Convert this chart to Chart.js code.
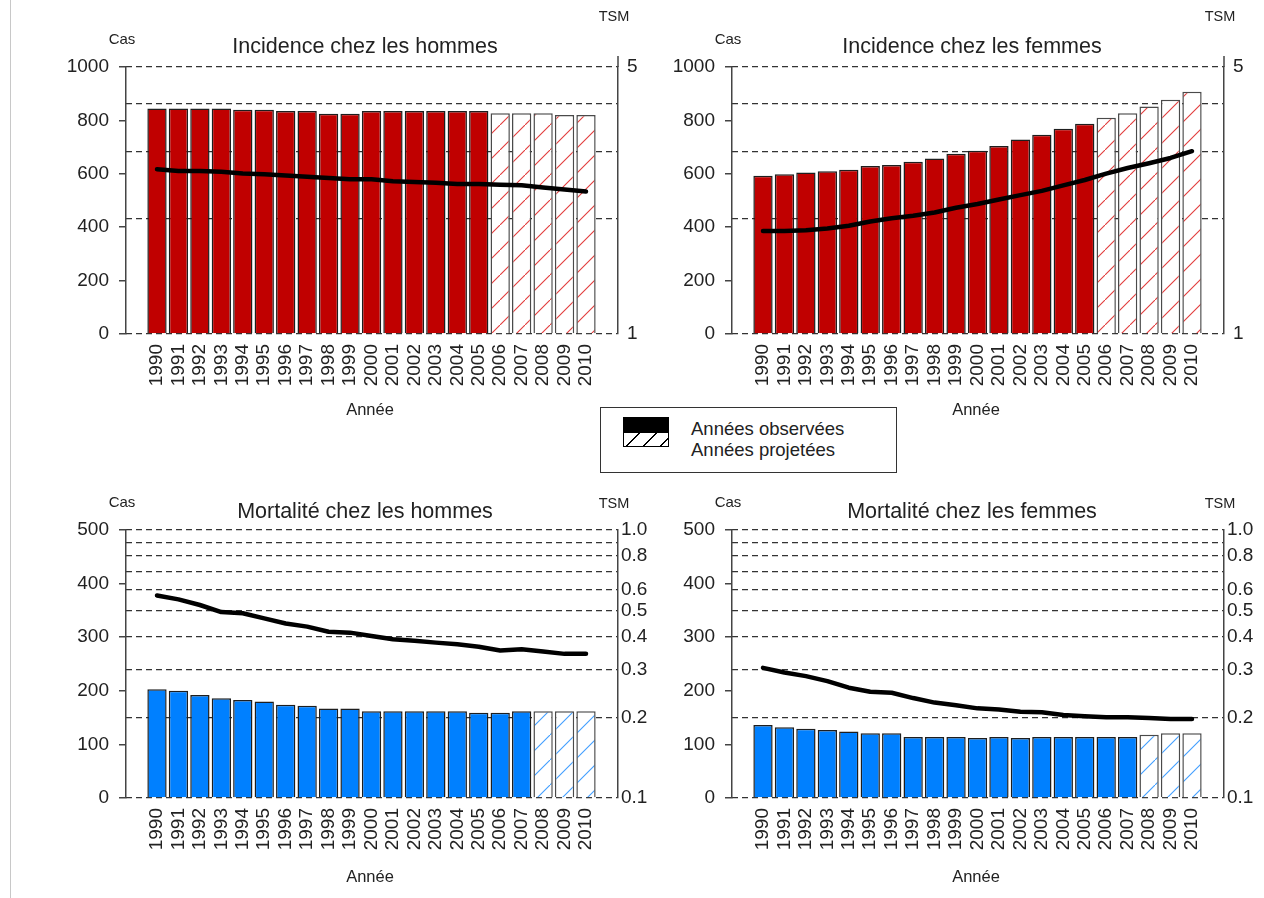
<!DOCTYPE html>
<html>
<head>
<meta charset="utf-8">
<script src="https://cdn.jsdelivr.net/npm/chart.js@4.4.1/dist/chart.umd.min.js"></script>
<style>
html,body{margin:0;padding:0;background:#fff;}
body{width:1264px;height:898px;position:relative;overflow:hidden;font-family:"Liberation Sans",Arial,sans-serif;color:#222;}
canvas{position:absolute;}
#edge{position:absolute;left:10px;top:0;width:1px;height:898px;background:#c8c8c8;}
#legend{position:absolute;left:600px;top:407px;width:297px;height:66px;border:1.5px solid #333;background:#fff;box-sizing:border-box;z-index:5;}
#swObs{position:absolute;left:21.5px;top:9px;width:46px;height:15px;background:#000;}
#swProj{position:absolute;left:21.5px;top:24px;width:46px;height:15px;box-sizing:border-box;border:1px solid #000;
  background:repeating-linear-gradient(135deg,#fff 0px,#fff 10.6px,#000 10.6px,#000 12px);}
.lt{position:absolute;left:90px;font-size:18.5px;line-height:20px;white-space:nowrap;color:#222;}
</style>
</head>
<body>
<div id="edge"></div>
<canvas id="cTL" width="655" height="430" style="left:0;top:0"></canvas>
<canvas id="cTR" width="609" height="430" style="left:655px;top:0"></canvas>
<canvas id="cBL" width="655" height="413" style="left:0;top:485px"></canvas>
<canvas id="cBR" width="609" height="413" style="left:655px;top:485px"></canvas>
<div id="legend">
  <div id="swObs"></div>
  <div id="swProj"></div>
  <div class="lt" style="top:11px">Années observées</div>
  <div class="lt" style="top:32px">Années projetées</div>
</div>
<script>
// ---------- data ----------
const years = [1990,1991,1992,1993,1994,1995,1996,1997,1998,1999,2000,2001,2002,2003,2004,2005,2006,2007,2008,2009,2010];

const incHommesCas = [845,845,845,845,840,840,835,835,825,825,835,835,835,835,835,835,827,827,827,820,820];
const incHommesTSM = [2.70,2.67,2.67,2.66,2.63,2.62,2.60,2.58,2.56,2.54,2.54,2.51,2.50,2.49,2.47,2.47,2.46,2.45,2.42,2.39,2.36];

const incFemmesCas = [593,598,605,610,615,629,633,645,657,675,686,704,728,746,769,787,810,827,852,877,907];
const incFemmesTSM = [1.86,1.86,1.87,1.89,1.92,1.97,2.01,2.04,2.08,2.14,2.19,2.25,2.31,2.37,2.45,2.53,2.63,2.72,2.80,2.89,3.01];

const mortHommesCas = [203,200,192,186,183,180,174,172,167,167,162,162,162,162,162,159,159,162,162,162,162];
const mortHommesTSM = [0.570,0.551,0.525,0.494,0.489,0.468,0.448,0.436,0.417,0.414,0.402,0.391,0.386,0.380,0.375,0.367,0.355,0.359,0.352,0.345,0.345];

const mortFemmesCas = [136,132,129,127,124,121,121,114,114,114,112,114,112,114,114,114,114,114,118,121,121];
const mortFemmesTSM = [0.306,0.294,0.285,0.273,0.258,0.249,0.247,0.236,0.227,0.222,0.216,0.214,0.210,0.209,0.204,0.202,0.200,0.200,0.199,0.197,0.197];

const incFirstProjected = 2006;
const mortFirstProjected = 2008;

const incCasTicks = [0,200,400,600,800,1000];
const mortCasTicks = [0,100,200,300,400,500];
const incTsmTicks = [1,2,3,4,5];
const incTsmLabelled = [1,5];
const mortTsmTicks = [0.1,0.2,0.3,0.4,0.5,0.6,0.7,0.8,0.9,1.0];
const mortTsmLabelled = [0.1,0.2,0.3,0.4,0.5,0.6,0.8,1.0];

// ---------- drawing ----------
const FONT = '"Liberation Sans", Arial, sans-serif';
Chart.defaults.font.family = FONT;
Chart.defaults.color = '#222';

const panelText = {
  id: 'panelText',
  afterDraw(chart, args, o) {
    const {ctx, chartArea: a} = chart;
    const cx = (a.left + a.right) / 2;
    ctx.save();
    if (o.rAxisExt > 0) {
      ctx.strokeStyle = '#444';
      ctx.lineWidth = 1.5;
      ctx.beginPath();
      ctx.moveTo(a.right, a.top - o.rAxisExt);
      ctx.lineTo(a.right, a.top);
      ctx.stroke();
    }
    ctx.fillStyle = '#222';
    ctx.textAlign = 'center';
    ctx.textBaseline = 'middle';
    ctx.font = '21.5px ' + FONT;
    ctx.fillText(o.title, cx + o.titleDx, a.top + o.titleDy);
    ctx.font = '15px ' + FONT;
    ctx.fillText('Cas', a.left + o.casDx, a.top + o.casDy);
    ctx.font = '14.5px ' + FONT;
    ctx.fillText('TSM', a.right + o.tsmDx, a.top + o.tsmDy);
    ctx.font = '16.5px ' + FONT;
    ctx.fillText('Année', cx + o.anneeDx, a.bottom + o.anneeDy);
    ctx.restore();
  }
};

function hatchPattern(ctx, color) {
  const t = document.createElement('canvas');
  t.width = 25; t.height = 25;
  const g = t.getContext('2d');
  g.fillStyle = '#fff';
  g.fillRect(0, 0, 25, 25);
  g.strokeStyle = color;
  g.lineWidth = 1.1;
  g.beginPath();
  g.moveTo(-2, 27); g.lineTo(27, -2);
  g.stroke();
  return ctx.createPattern(t, 'repeat');
}

const XMIN = 1988.555, XMAX = 2011.492;

function makePanel(id, p) {
  const ctx = document.getElementById(id).getContext('2d');
  const pat = hatchPattern(ctx, p.hatch);
  const bg = years.map(y => y >= p.firstProj ? pat : p.color);
  const bc = years.map(y => y >= p.firstProj ? '#4a4a4a' : '#1e1e1e');
  return new Chart(ctx, {
    type: 'bar',
    data: {
      labels: years,
      datasets: [
        {type: 'line', data: p.tsm, yAxisID: 'y2', borderColor: '#000', borderWidth: 4.5,
         pointRadius: 0, tension: 0, order: 1, borderJoinStyle: 'round', borderCapStyle: 'round'},
        {type: 'bar', data: p.cas, yAxisID: 'y', backgroundColor: bg, borderColor: bc,
         borderWidth: 1.5, categoryPercentage: 1, barPercentage: 0.9, order: 2}
      ]
    },
    options: {
      responsive: false, animation: false, events: [],
      layout: {padding: {top: p.top, left: 0, right: 0, bottom: 0}},
      plugins: {legend: {display: false}, tooltip: {enabled: false}, panelText: p.text},
      scales: {
        x: {
          type: 'linear', min: XMIN, max: XMAX, offset: false,
          afterBuildTicks: s => { s.ticks = years.map(v => ({value: v})); },
          afterFit: s => { s.height = p.xH; },
          grid: {display: false, drawTicks: false, offset: false},
          border: {display: false},
          ticks: {autoSkip: false, minRotation: 90, maxRotation: 90, padding: 10,
                  font: {size: 19}, color: '#222', callback: v => String(v)}
        },
        y: {
          position: 'left', min: 0, max: p.casTicks[p.casTicks.length - 1],
          afterBuildTicks: s => { s.ticks = p.casTicks.map(v => ({value: v})); },
          afterFit: s => { s.width = p.leftW; },
          grid: {drawOnChartArea: false, drawTicks: true, tickLength: 7, color: '#444', lineWidth: 1.5},
          border: {display: true, color: '#444', width: 1.5},
          ticks: {padding: 10, font: {size: 19}, color: '#222', callback: v => String(v)}
        },
        y2: {
          type: 'logarithmic', position: 'right',
          min: p.tsmTicks[0], max: p.tsmTicks[p.tsmTicks.length - 1],
          afterBuildTicks: s => { s.ticks = p.tsmTicks.map(v => ({value: v})); },
          afterFit: s => { s.width = p.rightW; },
          grid: {drawOnChartArea: true, drawTicks: false, color: '#333', lineWidth: 1.3},
          border: {display: true, color: '#444', width: 1.5, dash: [6, 4]},
          ticks: {padding: p.rPad, font: {size: 19}, color: '#222',
                  callback: v => {
                    const hit = p.tsmLabelled.some(l => Math.abs(l - v) < 1e-9);
                    return hit ? p.fmt(v) : '';
                  }}
        }
      }
    },
    plugins: [panelText]
  });
}

const topText = (t, dx) => ({title: t, titleDx: dx, titleDy: -20, casDx: -4, casDy: -27, tsmDx: -4, tsmDy: -50, anneeDx: -2, anneeDy: 76, rAxisExt: 11});
const botText = (t, dx) => ({title: t, titleDx: dx, titleDy: -18, casDx: -4, casDy: -27, tsmDx: -4, tsmDy: -26, anneeDx: -2, anneeDy: 79, rAxisExt: 0});

makePanel('cTL', {cas: incHommesCas, tsm: incHommesTSM, firstProj: incFirstProjected,
  color: '#c00000', hatch: '#e23a3a', casTicks: incCasTicks, tsmTicks: incTsmTicks, tsmLabelled: incTsmLabelled,
  fmt: v => String(v), leftW: 126, rightW: 37, top: 67, xH: 96, rPad: 9,
  text: topText('Incidence chez les hommes', -7)});
makePanel('cTR', {cas: incFemmesCas, tsm: incFemmesTSM, firstProj: incFirstProjected,
  color: '#c00000', hatch: '#e23a3a', casTicks: incCasTicks, tsmTicks: incTsmTicks, tsmLabelled: incTsmLabelled,
  fmt: v => String(v), leftW: 77, rightW: 40, top: 67, xH: 96, rPad: 9,
  text: topText('Incidence chez les femmes', -6)});
makePanel('cBL', {cas: mortHommesCas, tsm: mortHommesTSM, firstProj: mortFirstProjected,
  color: '#0080ff', hatch: '#3f9dff', casTicks: mortCasTicks, tsmTicks: mortTsmTicks, tsmLabelled: mortTsmLabelled,
  fmt: v => v.toFixed(1), leftW: 126, rightW: 37, top: 45, xH: 100, rPad: 3,
  text: botText('Mortalité chez les hommes', -7)});
makePanel('cBR', {cas: mortFemmesCas, tsm: mortFemmesTSM, firstProj: mortFirstProjected,
  color: '#0080ff', hatch: '#3f9dff', casTicks: mortCasTicks, tsmTicks: mortTsmTicks, tsmLabelled: mortTsmLabelled,
  fmt: v => v.toFixed(1), leftW: 77, rightW: 40, top: 45, xH: 100, rPad: 3,
  text: botText('Mortalité chez les femmes', -6)});
</script>
</body>
</html>
